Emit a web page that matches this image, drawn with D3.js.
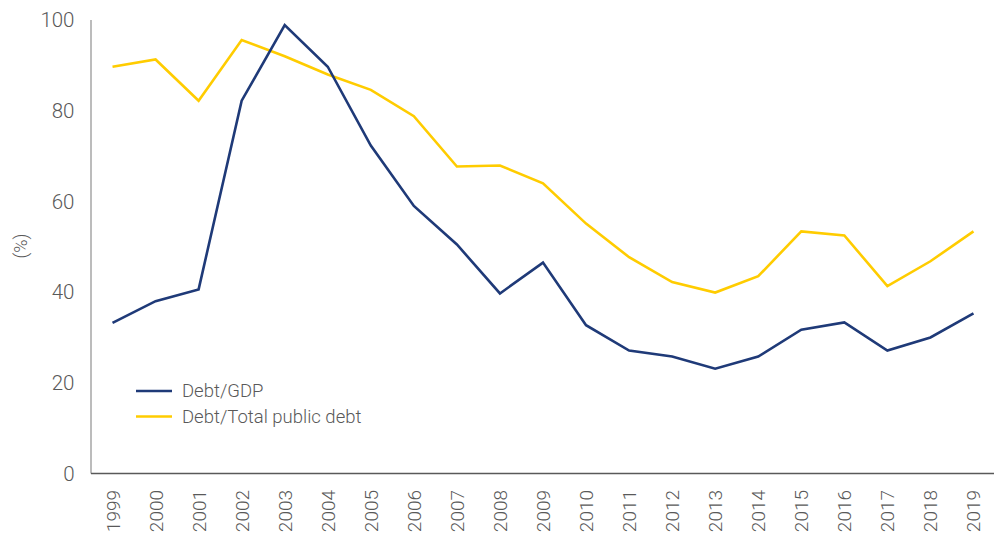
<!DOCTYPE html>
<html><head><meta charset="utf-8">
<script src="https://cdn.jsdelivr.net/npm/d3@7"></script>
<style>
body{margin:0;background:#fff;}
text{font-family:Roboto,sans-serif;font-weight:300;fill:#595959;}
</style></head>
<body><svg id="c" width="994" height="539"></svg>
<script>
const years = ["1999","2000","2001","2002","2003","2004","2005","2006","2007","2008","2009","2010","2011","2012","2013","2014","2015","2016","2017","2018","2019"];
const debtGdp = [33.2,38.0,40.6,82.2,98.9,89.7,72.3,59.0,50.5,39.7,46.5,32.7,27.1,25.8,23.1,25.8,31.7,33.3,27.1,30.0,35.3];
const debtTotal = [89.7,91.3,82.2,95.6,92.0,88.0,84.6,78.8,67.7,67.9,64.0,55.1,47.7,42.2,39.9,43.5,53.4,52.5,41.3,46.8,53.4];
const yTicks = [0,20,40,60,80,100];
const seriesNames = ["Debt/GDP","Debt/Total public debt"];
const colors = ["#1f3a78","#ffcc00"];

const svg = d3.select("#c");
const x = d3.scaleBand().domain(years).range([91, 995]);
const y = d3.scaleLinear().domain([0,100]).range([473.5, 20]);

svg.append("line").attr("x1",91).attr("x2",91).attr("y1",y(100)).attr("y2",y(0))
  .attr("stroke","#a6a6a6").attr("stroke-width",1.5);
svg.append("line").attr("x1",91).attr("x2",995).attr("y1",y(0)).attr("y2",y(0))
  .attr("stroke","#595959").attr("stroke-width",1.5);

svg.selectAll(".yt").data(yTicks).enter().append("text")
  .attr("x",74.5).attr("y",d=>y(d)).attr("dy","0.35em").attr("text-anchor","end")
  .attr("font-size",20.5).text(d=>d);

svg.selectAll(".xt").data(years).enter().append("text")
  .attr("transform",d=>`translate(${x(d)+x.bandwidth()/2+7},490) rotate(-90)`)
  .attr("text-anchor","end").attr("font-size",19).text(d=>d);

svg.append("text").attr("transform","translate(27,246) rotate(-90)")
  .attr("text-anchor","middle").attr("font-size",18).text("(%)");

const line = d3.line().x((d,i)=>x(years[i])+x.bandwidth()/2).y(d=>y(d));
[debtTotal, debtGdp].forEach((s,k)=>{
  const idx = k===0?1:0;
  svg.append("path").attr("d",line(s)).attr("fill","none")
    .attr("stroke",colors[idx]).attr("stroke-width",2.6).attr("stroke-linejoin","miter");
});

seriesNames.forEach((n,i)=>{
  const ly = 391 + i*25.5;
  svg.append("line").attr("x1",136).attr("x2",172).attr("y1",ly).attr("y2",ly)
    .attr("stroke",colors[i]).attr("stroke-width",2.6);
  svg.append("text").attr("x",182).attr("y",ly).attr("dy","0.35em")
    .attr("font-size",18.5).text(n);
});
</script></body></html>
